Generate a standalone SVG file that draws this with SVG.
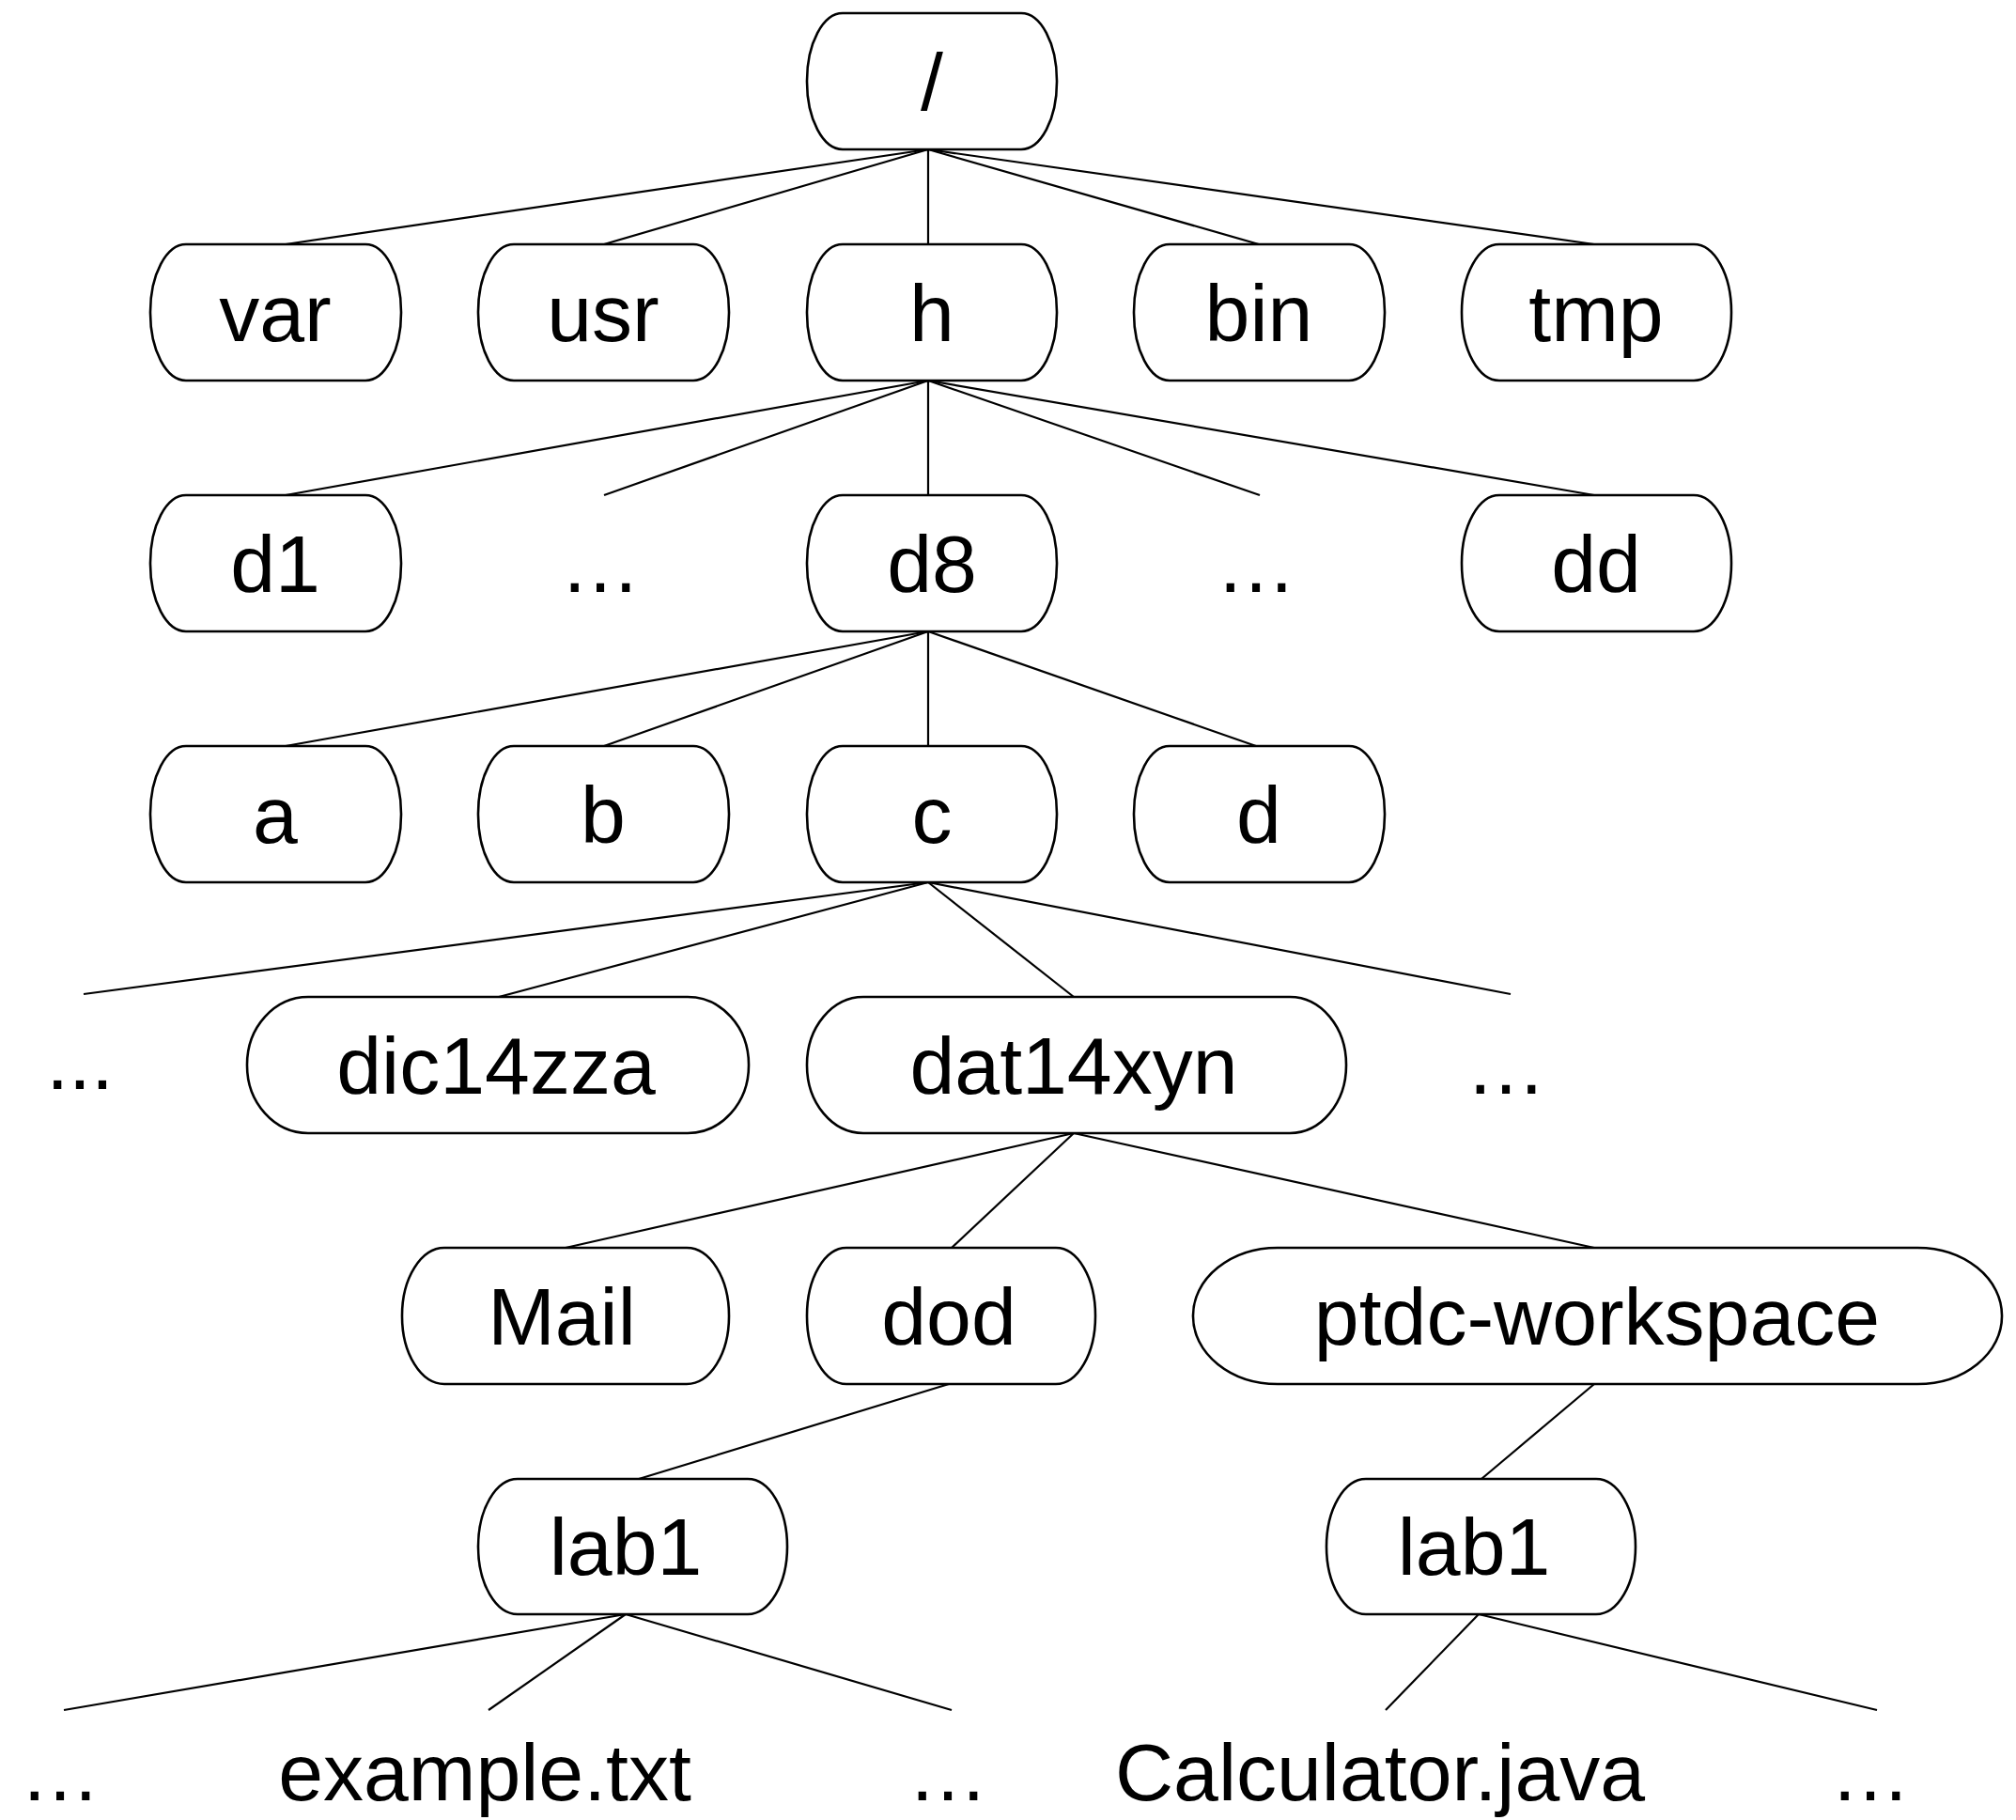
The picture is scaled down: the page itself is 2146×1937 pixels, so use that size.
<svg xmlns="http://www.w3.org/2000/svg" width="2146" height="1937" viewBox="0 0 2146 1937">
<style>
.n{fill:#fff;stroke:#000;stroke-width:2.6}
.t{font-family:"Liberation Sans",Arial,sans-serif;font-size:86px;fill:#000;text-anchor:middle}
.e{stroke:#000;stroke-width:2.2;fill:none}
</style>
<rect width="2146" height="1937" fill="#fff"/>
<g id="connectors" class="e">
<line x1="988" y1="159" x2="304" y2="260"/>
<line x1="988" y1="159" x2="643" y2="260"/>
<line x1="988" y1="159" x2="988" y2="260"/>
<line x1="988" y1="159" x2="1340" y2="260"/>
<line x1="988" y1="159" x2="1697" y2="260"/>
<line x1="988" y1="405" x2="304" y2="527"/>
<line x1="988" y1="405" x2="643" y2="527"/>
<line x1="988" y1="405" x2="988" y2="527"/>
<line x1="988" y1="405" x2="1341" y2="527"/>
<line x1="988" y1="405" x2="1697" y2="527"/>
<line x1="988" y1="672" x2="304" y2="794"/>
<line x1="988" y1="672" x2="643" y2="794"/>
<line x1="988" y1="672" x2="988" y2="794"/>
<line x1="988" y1="672" x2="1337" y2="794"/>
<line x1="988" y1="939" x2="89" y2="1058"/>
<line x1="988" y1="939" x2="531" y2="1061"/>
<line x1="988" y1="939" x2="1143" y2="1061"/>
<line x1="988" y1="939" x2="1608" y2="1058"/>
<line x1="1143" y1="1206" x2="602" y2="1328"/>
<line x1="1143" y1="1206" x2="1013" y2="1328"/>
<line x1="1143" y1="1206" x2="1697" y2="1328"/>
<line x1="1010" y1="1473" x2="680" y2="1574"/>
<line x1="1697" y1="1473" x2="1577" y2="1574"/>
<line x1="666" y1="1718" x2="68" y2="1820"/>
<line x1="666" y1="1718" x2="520" y2="1820"/>
<line x1="666" y1="1718" x2="1013" y2="1820"/>
<line x1="1574" y1="1718" x2="1475" y2="1820"/>
<line x1="1574" y1="1718" x2="1998" y2="1820"/>
</g>
<g id="root"><rect class="n" x="859" y="14" width="266" height="145" rx="38" ry="72"/><text class="t" x="992" y="117">/</text></g>
<g id="var"><rect class="n" x="160" y="260" width="267" height="145" rx="38" ry="72"/><text class="t" x="293" y="363">var</text></g>
<g id="usr"><rect class="n" x="509" y="260" width="267" height="145" rx="38" ry="72"/><text class="t" x="642" y="363">usr</text></g>
<g id="h"><rect class="n" x="859" y="260" width="266" height="145" rx="38" ry="72"/><text class="t" x="992" y="363">h</text></g>
<g id="bin"><rect class="n" x="1207" y="260" width="267" height="145" rx="38" ry="72"/><text class="t" x="1340" y="363">bin</text></g>
<g id="tmp"><rect class="n" x="1556" y="260" width="287" height="145" rx="40" ry="72"/><text class="t" x="1699" y="363">tmp</text></g>
<g id="d1"><rect class="n" x="160" y="527" width="267" height="145" rx="38" ry="72"/><text class="t" x="293" y="630">d1</text></g>
<g id="dots1"><text class="t" x="639" y="630">…</text></g>
<g id="d8"><rect class="n" x="859" y="527" width="266" height="145" rx="38" ry="72"/><text class="t" x="992" y="630">d8</text></g>
<g id="dots2"><text class="t" x="1337" y="630">…</text></g>
<g id="dd"><rect class="n" x="1556" y="527" width="287" height="145" rx="40" ry="72"/><text class="t" x="1699" y="630">dd</text></g>
<g id="a"><rect class="n" x="160" y="794" width="267" height="145" rx="38" ry="72"/><text class="t" x="293" y="897">a</text></g>
<g id="b"><rect class="n" x="509" y="794" width="267" height="145" rx="38" ry="72"/><text class="t" x="642" y="897">b</text></g>
<g id="c"><rect class="n" x="859" y="794" width="266" height="145" rx="38" ry="72"/><text class="t" x="992" y="897">c</text></g>
<g id="d"><rect class="n" x="1207" y="794" width="267" height="145" rx="38" ry="72"/><text class="t" x="1340" y="897">d</text></g>
<g id="dots3"><text class="t" x="85" y="1159">...</text></g>
<g id="dic14zza"><rect class="n" x="263" y="1061" width="534" height="145" rx="65" ry="72"/><text class="t" x="528" y="1164">dic14zza</text></g>
<g id="dat14xyn"><rect class="n" x="859" y="1061" width="574" height="145" rx="60" ry="72"/><text class="t" x="1143" y="1164">dat14xyn</text></g>
<g id="dots4"><text class="t" x="1603" y="1164">…</text></g>
<g id="Mail"><rect class="n" x="428" y="1328" width="348" height="145" rx="45" ry="72"/><text class="t" x="598" y="1431">Mail</text></g>
<g id="dod"><rect class="n" x="859" y="1328" width="307" height="145" rx="42" ry="72"/><text class="t" x="1010" y="1431">dod</text></g>
<g id="ptdc-workspace"><rect class="n" x="1270" y="1328" width="861" height="145" rx="90" ry="72"/><text class="t" x="1700" y="1431">ptdc-workspace</text></g>
<g id="lab1a"><rect class="n" x="509" y="1574" width="329" height="144" rx="42" ry="72"/><text class="t" x="666" y="1676">lab1</text></g>
<g id="lab1b"><rect class="n" x="1412" y="1574" width="329" height="144" rx="42" ry="72"/><text class="t" x="1569" y="1676">lab1</text></g>
<g id="dots5"><text class="t" x="64" y="1916">…</text></g>
<g id="example"><text class="t" x="516" y="1916">example.txt</text></g>
<g id="dots6"><text class="t" x="1009" y="1916">…</text></g>
<g id="calculator"><text class="t" x="1469" y="1916">Calculator.java</text></g>
<g id="dots7"><text class="t" x="1991" y="1916">…</text></g>
</svg>
